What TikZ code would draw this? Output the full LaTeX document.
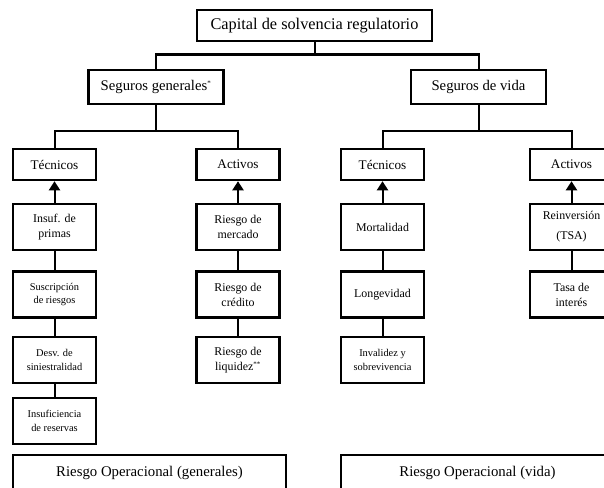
\documentclass[tikz,border=0pt]{standalone}
\usepackage{fontspec}
\setmainfont{Liberation Serif}
\usetikzlibrary{arrows.meta}

\begin{document}
\begin{tikzpicture}[x=1pt,y=-1pt,
  box/.style={draw,line width=2.5pt,align=center,inner sep=0pt},
  raiz/.style={box,font=\fontsize{16.3}{19}\selectfont,minimum width=235pt,minimum height=31pt},
  rama/.style={box,font=\fontsize{14.7}{17}\selectfont,minimum width=135pt,minimum height=34pt},
  grupo/.style={box,font=\fontsize{13.2}{15}\selectfont,minimum width=83pt,minimum height=31pt},
  riesgo/.style={box,font=\fontsize{11.9}{15}\selectfont,minimum width=83pt,minimum height=46pt},
  chico/.style={riesgo,font=\fontsize{10.4}{13.3}\selectfont},
  oper/.style={box,font=\fontsize{14.8}{17}\selectfont,minimum width=273pt,minimum height=36pt},
  conn/.style={line width=2pt},
  arr/.style={conn,-{Triangle[width=11pt,length=9pt]}}]
  \useasboundingbox[fill=white] (0,0) rectangle (604,487);
  \clip (0,0) rectangle (604,487);
  \node[raiz] (cap) at (314.5,25.5) {Capital de solvencia regulatorio};
  \node[rama] (gen) at (156,87) {Seguros generales\textsuperscript{\scriptsize*}};
  \node[rama] (vida) at (478.5,87) {Seguros de vida};
  \node[grupo] (tecg) at (54.5,164.5) {Técnicos};
  \node[grupo] (actg) at (238,164.5) {Activos};
  \node[grupo] (tecv) at (382.5,164.5) {Técnicos};
  \node[grupo] (actv) at (571.5,164.5) {Activos};
  \node[riesgo] (insuf) at (54.5,227) {Insuf. de\\primas};
  \node[chico] (susc) at (54.5,294.5) {Suscripción\\de riesgos};
  \node[chico] (desv) at (54.5,360) {Desv. de\\siniestralidad};
  \node[chico] (insres) at (54.5,421) {Insuficiencia\\de reservas};
  \node[riesgo] (merc) at (238,227) {Riesgo de\\mercado};
  \node[riesgo] (cred) at (238,294.5) {Riesgo de\\crédito};
  \node[riesgo] (liq) at (238,360) {Riesgo de\\liquidez\textsuperscript{\scriptsize**}};
  \node[riesgo] (mort) at (382.5,227) {Mortalidad};
  \node[riesgo] (longe) at (382.5,294.5) {Longevidad};
  \node[chico] (inval) at (382.5,360) {Invalidez y\\sobrevivencia};
  \node[riesgo] (reinv) at (571.5,227) {Reinversión\\[5pt](TSA)};
  \node[riesgo] (tasa) at (571.5,294.5) {Tasa de\\interés};
  \node[oper] (opg) at (149.5,473) {Riesgo Operacional (generales)};
  \node[oper] (opv) at (477.5,473) {Riesgo Operacional (vida)};
  \coordinate (b0) at (314.5,54.5);
  \coordinate (b1) at (156,130.5);
  \coordinate (b2) at (478.5,130.5);
  \draw[conn] (cap.south) -- (b0) -| (gen.north);
  \draw[conn] (b0) -| (vida.north);
  \draw[conn] (gen.south) -- (b1) -| (tecg.north);
  \draw[conn] (b1) -| (actg.north);
  \draw[conn] (vida.south) -- (b2) -| (tecv.north);
  \draw[conn] (b2) -| (actv.north);
  \draw[arr] (insuf) -- (tecg); \draw[arr] (merc) -- (actg);
  \draw[arr] (mort) -- (tecv); \draw[arr] (reinv) -- (actv);
  \draw[conn] (insuf) -- (susc); \draw[conn] (susc) -- (desv);
  \draw[conn] (desv) -- (insres);
  \draw[conn] (merc) -- (cred); \draw[conn] (cred) -- (liq);
  \draw[conn] (mort) -- (longe); \draw[conn] (longe) -- (inval);
  \draw[conn] (reinv) -- (tasa);
\end{tikzpicture}
\end{document}
